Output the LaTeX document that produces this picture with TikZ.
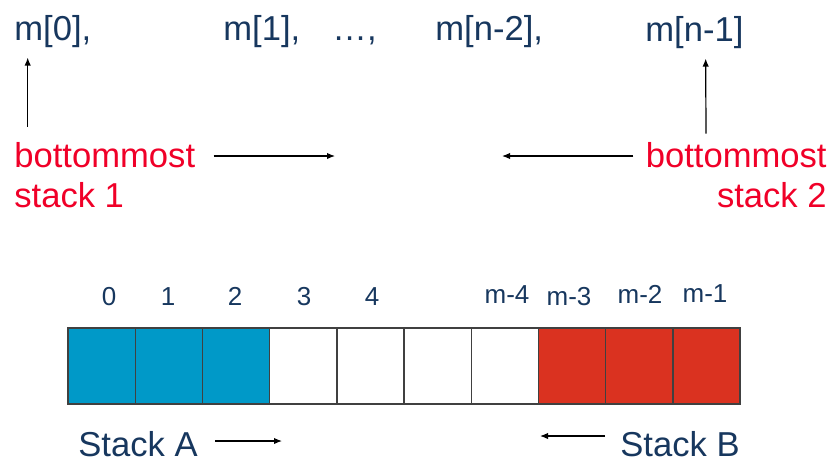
\documentclass[tikz,border=0pt]{standalone}
\usepackage{fontspec}
\setmainfont{Liberation Sans}
\usetikzlibrary{arrows.meta,positioning}
\definecolor{ink}{RGB}{23,55,94}
\definecolor{hot}{RGB}{240,0,40}
\definecolor{stackA}{RGB}{0,153,200}
\definecolor{stackB}{RGB}{218,50,32}

\begin{document}
\begin{tikzpicture}[x=0.5pt, y=-0.5pt,
  big/.style={font=\fontsize{17.3}{20}\selectfont, inner sep=0pt},
  small/.style={font=\fontsize{13}{15}\selectfont, text=ink, inner sep=0pt, anchor=base},
  cell/.style={draw=black!75, line width=0.7pt, minimum width=33.6pt, minimum height=38pt, inner sep=0pt},
  arr/.style={-{Latex[length=4pt,width=3.2pt]}, line width=0.6pt}]
  \useasboundingbox (0,0) rectangle (833,462);

  % array indices on top
  \node[big, text=ink, anchor=base west] (m0) at (14,40) {m[0],};
  \node[big, text=ink, anchor=base west] (m1) at (223,40) {m[1],};
  \node[big, text=ink, anchor=base west] (dots) at (332,40) {…,};
  \node[big, text=ink, anchor=base west] (mn2) at (435,40) {m[n-2],};
  \node[big, text=ink, anchor=base west] (mn1) at (645,41) {m[n-1]};

  % where each stack starts (base = last line)
  \node[big, text=hot, align=left, anchor=base west] (bot1) at (14,207) {bottommost\\stack 1};
  \node[big, text=hot, align=right, anchor=base east] (bot2) at (827,207) {bottommost\\stack 2};
  \coordinate (grow1) at (335,156);
  \coordinate (grow2) at (502,156);

  \draw[arr, shorten <=7.5pt, shorten >=5pt] ([xshift=6.85pt]bot1.north west) -- ([xshift=6.85pt]m0.south west);
  \draw[arr, shorten <=4pt, shorten >=5pt] ([xshift=30.3pt]bot2.north west) -- ([xshift=30.3pt]mn1.south west);
  \draw[arr, shorten <=9pt] (bot1.east |- grow1) -- (grow1);
  \draw[arr, shorten <=6pt] (bot2.west |- grow2) -- (grow2);

  % the shared array
  \foreach \i in {0,1,2}
    \node[cell, fill=stackA] (c\i) at ({101.6+67.2*\i},366) {};
  \foreach \i in {3,...,6}
    \node[cell, fill=white] (c\i) at ({101.6+67.2*\i},366) {};
  \foreach \i in {7,8,9}
    \node[cell, fill=stackB] (c\i) at ({101.6+67.2*\i},366) {};

  \foreach \x/\y/\t [count=\k] in {109/305/0, 168/305/1, 235/305/2, 304/305/3, 372/305/4,
      507/303/m-4, 569/305/m-3, 640/303/m-2, 705/302/m-1}
    \node[small] (idx\k) at (\x,\y) {\t};

  % stack labels below
  \node[big, text=ink, anchor=base west] (sa) at (78,456) {Stack A};
  \node[big, text=ink, anchor=base west] (sb) at (620,456) {Stack B};
  \coordinate (growA) at (282,441);
  \coordinate (growB) at (540,436);
  \draw[arr, shorten <=8.5pt] (sa.east |- growA) -- (growA);
  \draw[arr, shorten <=7.5pt] (sb.west |- growB) -- (growB);
\end{tikzpicture}
\end{document}
